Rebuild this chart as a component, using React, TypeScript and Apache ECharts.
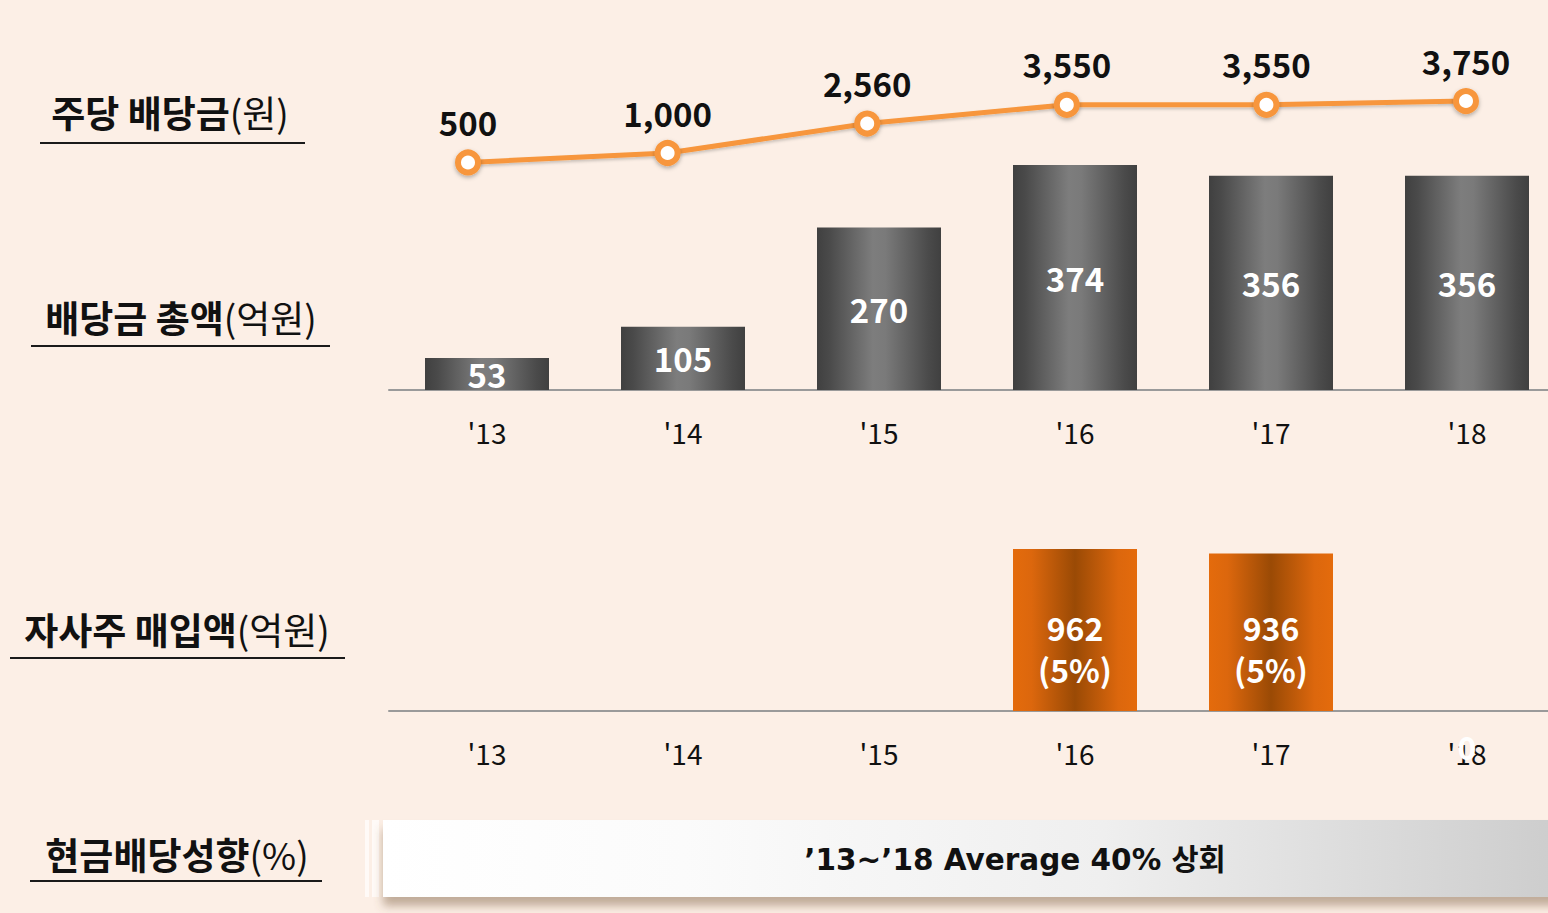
import { useEffect, useRef } from 'react';
import * as echarts from 'echarts';

const years = ["'13", "'14", "'15", "'16", "'17", "'18"];
const dividendPerShare = [500, 1000, 2560, 3550, 3550, 3750];
const totalDividend = [53, 105, 270, 374, 356, 356];
const buyback: (number | null)[] = [null, null, null, 962, 936, 0];
const buybackRatio = ['', '', '', '5%', '5%', ''];
const titleMain = ['주당 배당금', '배당금 총액', '자사주 매입액', '현금배당성향'];
const titleUnit = ['(원)', '(억원)', '(억원)', '(%)'];
const bannerText = '’13~’18 Average 40% 상회';

const KR = '"Noto Sans CJK KR", "Noto Sans", sans-serif';
const BG = '#fcefe6';
const ORANGE_LINE = '#f7963c';

const titleLayout = [
  { cx: 170, cy: 112, x1: 40, x2: 305, ly: 143 },
  { cx: 181, cy: 317, x1: 31, x2: 330, ly: 346 },
  { cx: 177, cy: 629, x1: 10, x2: 345, ly: 658 },
  { cx: 177, cy: 854, x1: 30, x2: 322, ly: 881 },
];

const grayGrad = new echarts.graphic.LinearGradient(0, 0, 1, 0, [
  { offset: 0, color: '#404040' },
  { offset: 0.1, color: '#4a4a4a' },
  { offset: 0.45, color: '#7d7d7d' },
  { offset: 0.55, color: '#7a7a7a' },
  { offset: 0.9, color: '#4a4a4a' },
  { offset: 1, color: '#404040' },
]);
const orangeGrad = new echarts.graphic.LinearGradient(0, 0, 1, 0, [
  { offset: 0, color: '#e46b0c' },
  { offset: 0.15, color: '#dc670d' },
  { offset: 0.5, color: '#9a4a05' },
  { offset: 0.85, color: '#dc670d' },
  { offset: 1, color: '#e46b0c' },
]);

function fmt(v: number) {
  return v.toLocaleString('en-US');
}

function buildOption(): any {
  const graphics: any[] = [];
  graphics.push({
    type: 'line',
    shape: { x1: 413, y1: 8, x2: 1503, y2: 8 },
    style: { stroke: '#2a2a2a', lineWidth: 2.5, shadowColor: 'rgba(0,0,0,0.35)', shadowOffsetY: 1.5, shadowBlur: 1 },
  });
  titleMain.forEach((t, i) => {
    const L = titleLayout[i];
    graphics.push({
      type: 'text',
      style: {
        text: `{b|${t}}{r|${titleUnit[i]}}`,
        x: L.cx,
        y: L.cy,
        align: 'center',
        verticalAlign: 'middle',
        rich: {
          b: { fontFamily: KR, fontWeight: 'bold', fontSize: 37, fill: '#111' },
          r: { fontFamily: KR, fontWeight: 'normal', fontSize: 37, fill: '#111' },
        },
      },
    });
    graphics.push({
      type: 'line',
      shape: { x1: L.x1, y1: L.ly, x2: L.x2, y2: L.ly },
      style: { stroke: '#1a1a1a', lineWidth: 2 },
    });
  });
  graphics.push({
    type: 'rect',
    shape: { x: 365, y: 820, width: 4, height: 77 },
    style: { fill: '#fffaf7' },
  });
  graphics.push({
    type: 'rect',
    shape: { x: 372, y: 820, width: 7, height: 77 },
    style: { fill: '#fffaf7' },
  });
  graphics.push({
    type: 'rect',
    shape: { x: 383, y: 820, width: 1200, height: 77 },
    style: {
      fill: new echarts.graphic.LinearGradient(0, 0, 1, 0, [
        { offset: 0, color: '#ffffff' },
        { offset: 0.25, color: '#fbfbfb' },
        { offset: 0.6, color: '#efefef' },
        { offset: 1, color: '#cbcbcb' },
      ]),
      shadowColor: 'rgba(120,90,60,0.45)',
      shadowBlur: 10,
      shadowOffsetY: 9,
    },
  });
  graphics.push({
    type: 'text',
    style: {
      text: bannerText,
      x: 1015,
      y: 860,
      align: 'center',
      verticalAlign: 'middle',
      fontFamily: '"DejaVu Sans", "Noto Sans CJK KR", sans-serif',
      fontWeight: 'bold',
      fontSize: 29.5,
      fill: '#111',
    },
  });

  const axisLabelStyle = {
    fontFamily: KR,
    fontSize: 28,
    color: '#111',
    margin: 28,
  };

  return {
    animation: false,
    backgroundColor: BG,
    grid: [
      { left: 468, width: 998, top: 96.3, height: 75.6 },
      { left: 389, width: 1176, top: 149.4, height: 240.6 },
      { left: 389, width: 1176, top: 542.6, height: 168.4 },
    ],
    xAxis: [
      { gridIndex: 0, type: 'category', data: years, boundaryGap: false, show: false },
      {
        gridIndex: 1,
        type: 'category',
        data: years,
        axisTick: { show: false },
        axisLine: { lineStyle: { color: '#9a9a9a', width: 2 } },
        axisLabel: axisLabelStyle,
      },
      {
        gridIndex: 2,
        type: 'category',
        data: years,
        axisTick: { show: false },
        axisLine: { lineStyle: { color: '#9a9a9a', width: 2 } },
        axisLabel: axisLabelStyle,
      },
    ],
    yAxis: [
      { gridIndex: 0, type: 'value', min: 0, max: 4000, show: false, splitLine: { show: false } },
      { gridIndex: 1, type: 'value', min: 0, max: 400, show: false, splitLine: { show: false } },
      { gridIndex: 2, type: 'value', min: 0, max: 1000, show: false, splitLine: { show: false } },
    ],
    series: [
      {
        type: 'line',
        xAxisIndex: 0,
        yAxisIndex: 0,
        data: dividendPerShare,
        symbol: 'circle',
        symbolSize: 20,
        lineStyle: { color: ORANGE_LINE, width: 5, shadowColor: 'rgba(0,0,0,0.2)', shadowBlur: 3, shadowOffsetY: 2 },
        itemStyle: {
          color: '#ffffff',
          borderColor: ORANGE_LINE,
          borderWidth: 6,
          shadowColor: 'rgba(0,0,0,0.3)',
          shadowBlur: 4,
          shadowOffsetY: 2,
        },
        label: {
          show: true,
          position: 'top',
          distance: 11,
          formatter: (p: any) => fmt(p.value),
          fontFamily: KR,
          fontWeight: 'bold',
          fontSize: 33,
          color: '#111',
        },
        z: 5,
      },
      {
        type: 'bar',
        xAxisIndex: 1,
        yAxisIndex: 1,
        data: totalDividend,
        barWidth: 124,
        itemStyle: { color: grayGrad },
        label: {
          show: true,
          position: 'inside',
          fontFamily: KR,
          fontWeight: 'bold',
          fontSize: 33,
          color: '#ffffff',
        },
      },
      {
        type: 'bar',
        xAxisIndex: 2,
        yAxisIndex: 2,
        data: buyback.map((v) =>
          v === null ? '-' : v === 0 ? { value: 0, label: { position: 'bottom', distance: 14 } } : v
        ),
        barWidth: 124,
        itemStyle: { color: orangeGrad },
        label: {
          show: true,
          position: 'insideBottom',
          distance: 21,
          lineHeight: 42,
          formatter: (p: any) =>
            p.value ? `${p.value}\n(${buybackRatio[p.dataIndex]})` : '0',
          fontFamily: KR,
          fontWeight: 'bold',
          fontSize: 32,
          color: '#ffffff',
        },
      },
    ],
    graphic: graphics,
  };
}

export default function App() {
  const ref = useRef<HTMLDivElement>(null);
  useEffect(() => {
    const chart = echarts.init(ref.current!, null, { renderer: 'svg', width: 1600, height: 913 });
    chart.setOption(buildOption());
    return () => chart.dispose();
  }, []);
  return (
    <div style={{ position: 'fixed', left: 0, top: 0, width: 1548, height: 913, background: BG, overflow: 'hidden' }}>
      <div ref={ref} style={{ width: 1600, height: 913 }} />
    </div>
  );
}
